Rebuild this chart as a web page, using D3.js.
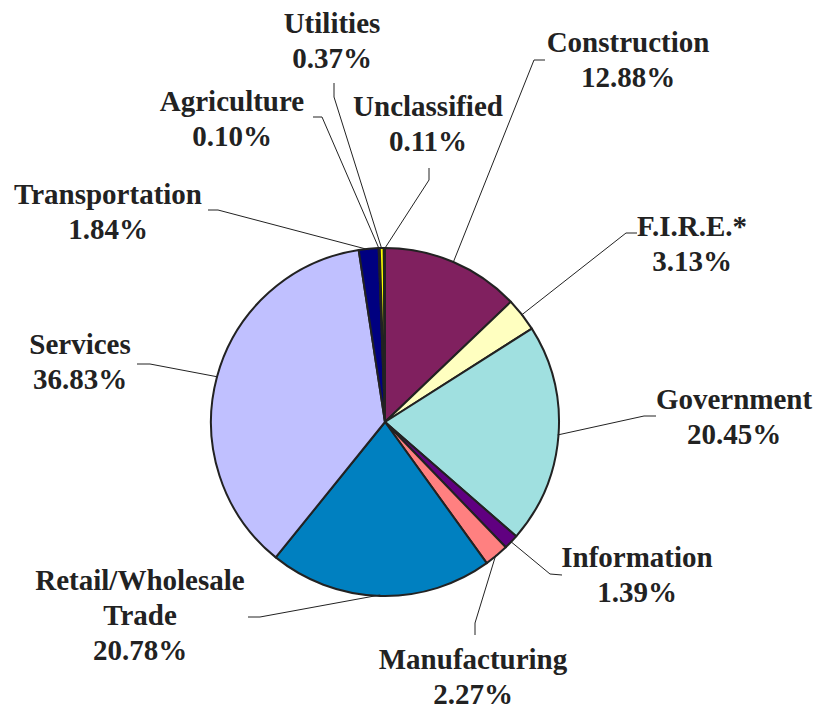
<!DOCTYPE html>
<html>
<head>
<meta charset="utf-8">
<script src="https://cdn.jsdelivr.net/npm/d3@7"></script>
<style>
  body { margin: 0; background: #fff; }
</style>
</head>
<body>
<div id="chart"></div>
<script>
// data, clockwise from 12 o'clock
const sectors = ["Construction", "F.I.R.E.*", "Government", "Information", "Manufacturing",
  "Retail/Wholesale Trade", "Services", "Transportation", "Agriculture", "Utilities", "Unclassified"]
const shares = [12.88, 3.13, 20.45, 1.39, 2.27, 20.78, 36.83, 1.84, 0.10, 0.37, 0.11]
const shareLabels = ["12.88%", "3.13%", "20.45%", "1.39%", "2.27%", "20.78%", "36.83%", "1.84%", "0.10%", "0.37%", "0.11%"]
const colors = ["#80205f", "#ffffc0", "#a0e0e0", "#600080", "#ff8080", "#0080c0",
  "#c0c0ff", "#000080", "#ff00ff", "#ffff00", "#00ffff"]

// label layout: text centre x, first baseline, and the two leader points near the label
const labelLayout = {
  "Construction":           {x: 628, y: 52,  lines: ["Construction"],            lead: [[545, 60], [534, 60]]},
  "F.I.R.E.*":              {x: 692, y: 236, lines: ["F.I.R.E.*"],               lead: [[637, 233], [626, 233]]},
  "Government":             {x: 734, y: 409, lines: ["Government"],              lead: [[656, 416], [644, 416]]},
  "Information":            {x: 637, y: 567, lines: ["Information"],             lead: [[562, 575], [550, 574]]},
  "Manufacturing":          {x: 473, y: 669, lines: ["Manufacturing"],           lead: [[475, 635], [475, 623]]},
  "Retail/Wholesale Trade": {x: 140, y: 590, lines: ["Retail/Wholesale", "Trade"], lead: [[248, 617], [260, 617]]},
  "Services":               {x: 80,  y: 354, lines: ["Services"],                lead: [[137, 364], [150, 364]]},
  "Transportation":         {x: 108, y: 204, lines: ["Transportation"],          lead: [[208, 210], [218, 210]]},
  "Agriculture":            {x: 232, y: 111, lines: ["Agriculture"],             lead: [[313, 117], [322, 117]]},
  "Utilities":              {x: 332, y: 33,  lines: ["Utilities"],               lead: [[334, 83], [334, 97]]},
  "Unclassified":           {x: 428, y: 116, lines: ["Unclassified"],            lead: [[429, 168], [429, 180]]}
}

const width = 820
const height = 709
const cx = 385
const cy = 422
const radius = 174
const lineH = 35

const svg = d3.select("#chart")
  .append("svg")
    .attr("width", width)
    .attr("height", height)

const pie = d3.pie().sort(null).value(d => d.value)
const arcs = pie(sectors.map((s, i) => ({name: s, value: shares[i], label: shareLabels[i], color: colors[i]})))

const arc = d3.arc().innerRadius(0).outerRadius(radius)

const g = svg.append("g").attr("transform", `translate(${cx},${cy})`)

g.selectAll("path.slice")
  .data(arcs)
  .join("path")
    .attr("class", "slice")
    .attr("d", arc)
    .attr("fill", d => d.data.color)
    .attr("stroke", "#222")
    .attr("stroke-width", 2)
    .attr("stroke-linejoin", "round")

// leader lines
const line = d3.line()
svg.selectAll("path.leader")
  .data(arcs)
  .join("path")
    .attr("class", "leader")
    .attr("d", d => {
      const lay = labelLayout[d.data.name]
      const a = (d.startAngle + d.endAngle) / 2
      const end = [cx + (radius - 1) * Math.sin(a), cy - (radius - 1) * Math.cos(a)]
      return line([lay.lead[0], lay.lead[1], end])
    })
    .attr("fill", "none")
    .attr("stroke", "#222")
    .attr("stroke-width", 1)

// labels
const labels = svg.selectAll("text.lbl")
  .data(arcs)
  .join("text")
    .attr("class", "lbl")
    .attr("text-anchor", "middle")
    .attr("font-family", "'Liberation Serif', 'DejaVu Serif', serif")
    .attr("font-weight", "bold")
    .attr("font-size", 29)
    .attr("fill", "#222")

labels.each(function(d) {
  const lay = labelLayout[d.data.name]
  const t = d3.select(this)
  lay.lines.concat([d.data.label]).forEach((s, i) => {
    t.append("tspan")
      .attr("x", lay.x)
      .attr("y", lay.y + i * lineH)
      .text(s)
  })
})
</script>
</body>
</html>
